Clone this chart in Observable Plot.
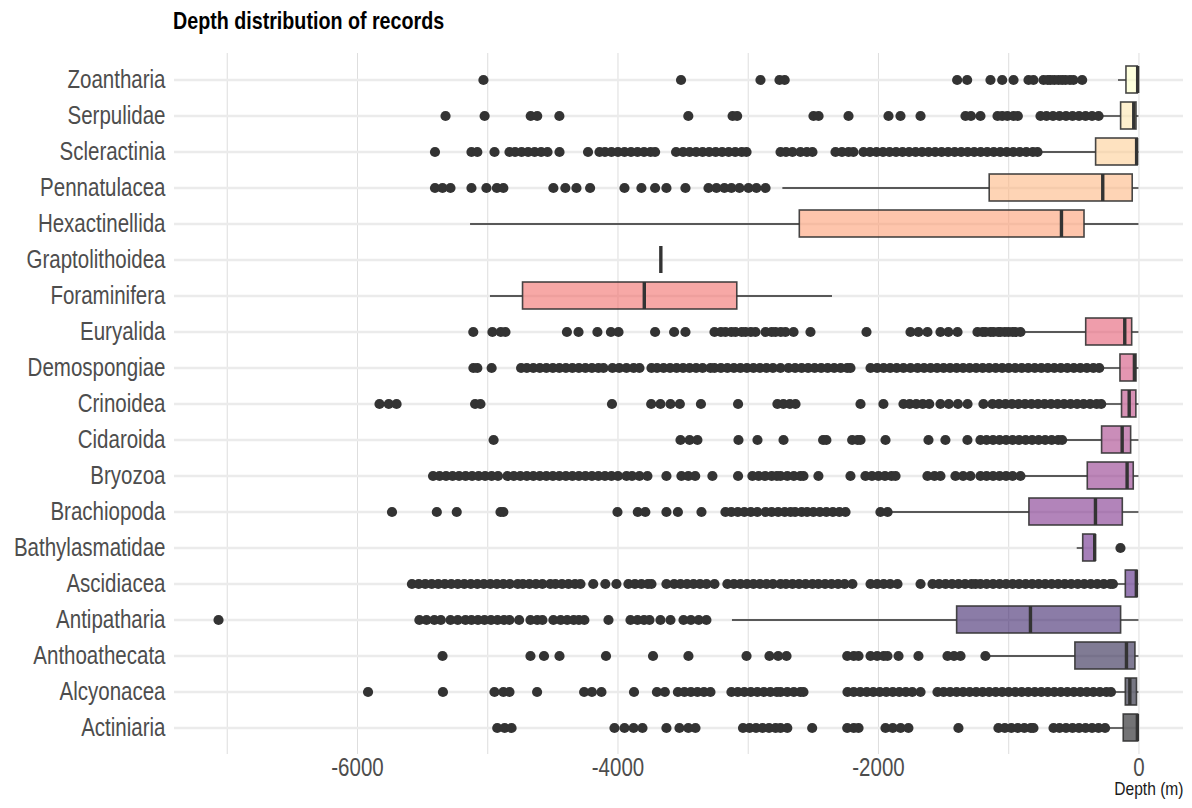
<!DOCTYPE html>
<html>
<head>
<meta charset="utf-8">
<script src="https://cdn.jsdelivr.net/npm/d3@7"></script>
<script src="https://cdn.jsdelivr.net/npm/@observablehq/plot@0.6"></script>
<style>
  html, body { margin: 0; padding: 0; background: #fff; }
  #title { height: 42px; line-height: 42px; padding-left: 173px; font-family: 'Liberation Sans', Arial, sans-serif; font-weight: bold; font-size: 24px; color: #000; white-space: nowrap; }
  #title span { display: inline-block; transform: scaleX(0.82); transform-origin: left center; }
  svg { display: block; }
</style>
</head>
<body>
<div id="title"><span>Depth distribution of records</span></div>
<div id="chart"></div>
<script>
// Categories (alphabetical; drawn Zoantharia at top)
const categories = ["Actiniaria","Alcyonacea","Anthoathecata","Antipatharia","Ascidiacea","Bathylasmatidae","Brachiopoda","Bryozoa","Cidaroida","Crinoidea","Demospongiae","Euryalida","Foraminifera","Graptolithoidea","Hexactinellida","Pennatulacea","Scleractinia","Serpulidae","Zoantharia"];

// Box statistics (depth, m)
const whiskerLow  = [-232, -206, -1178, -3121, -193, -474, -1895, -910, -580, -272, -296, -897, -4979, -3671, -5132, -2734, -771, -283, -157];
const quartile1   = [-117, -101, -488, -1396, -101, -428, -841, -393, -283, -130, -142, -405, -4729, -3671, -2604, -1146, -329, -137, -96];
const medianDepth = [-12, -70, -96, -833, -20, -340, -334, -91, -129, -75, -35, -109, -3798, -3671, -595, -278, -18, -40, -10];
const quartile3   = [-6, -15, -27, -137, -12, -334, -124, -40, -60, -20, -19, -52, -3084, -3671, -418, -48, -10, -19, -9];
const whiskerHigh = [0, 0, 0, 0, 0, -334, 0, 0, 0, 0, 0, 0, -2353, -3671, 0, 0, 0, 0, 0];

// Outliers (depth, m)
const outActiniaria = [-4927,-4870,-4817,-4027,-3950,-3880,-3812,-3628,-3528,-3460,-3405,-3040,-2990,-2940,-2890,-2840,-2790,-2752,-2700,-2509,-2240,-2190,-2153,-1946,-1890,-1830,-1770,-1386,-1079,-1030,-980,-930,-880,-830,-810,-656,-610,-560,-510,-460,-410,-360,-310,-260];
const outAlcyonacea = [-5919,-5344,-4948,-4880,-4833,-4621,-4260,-4200,-4127,-3877,-3701,-3640,-3540,-3490,-3440,-3390,-3340,-3290,-3129,-3080,-3030,-2980,-2930,-2880,-2830,-2780,-2752,-2700,-2650,-2600,-2576,-2238,-2190,-2140,-2090,-2040,-1990,-1940,-1890,-1840,-1790,-1740,-1677,-1547,-1500,-1450,-1400,-1350,-1300,-1250,-1200,-1150,-1100,-1050,-1000,-950,-900,-850,-800,-750,-700,-650,-600,-550,-500,-450,-400,-350,-300,-250,-215];
const outAnthoathecata = [-5347,-4672,-4568,-4449,-4092,-3731,-3459,-3013,-2837,-2770,-2706,-2240,-2190,-2153,-2061,-2010,-1960,-1931,-1846,-1693,-1470,-1420,-1370,-1179];
const outAntipatharia = [-7067,-5525,-5470,-5410,-5360,-5286,-5230,-5171,-5125,-5075,-5025,-4975,-4925,-4875,-4833,-4759,-4672,-4620,-4580,-4496,-4440,-4390,-4340,-4300,-4258,-4073,-3904,-3850,-3800,-3758,-3674,-3597,-3497,-3440,-3380,-3321];
const outAscidiacea = [-5582,-5530,-5480,-5430,-5380,-5330,-5280,-5230,-5180,-5130,-5080,-5030,-4980,-4930,-4880,-4830,-4770,-4730,-4680,-4630,-4580,-4520,-4480,-4430,-4380,-4330,-4288,-4190,-4097,-4012,-3920,-3870,-3820,-3770,-3743,-3628,-3569,-3520,-3470,-3420,-3370,-3320,-3259,-3160,-3110,-3060,-3010,-2960,-2910,-2860,-2810,-2752,-2710,-2660,-2610,-2560,-2507,-2461,-2410,-2360,-2310,-2260,-2200,-2061,-2010,-1960,-1910,-1854,-1677,-1585,-1535,-1485,-1435,-1385,-1335,-1285,-1255,-1217,-1170,-1120,-1070,-1020,-970,-920,-870,-820,-770,-720,-670,-620,-570,-520,-470,-420,-370,-320,-270,-220,-200];
const outBathylasmatidae = [-142];
const outBrachiopoda = [-5735,-5391,-5238,-4902,-4880,-4004,-3848,-3790,-3628,-3540,-3359,-3175,-3130,-3080,-3030,-2980,-2930,-2867,-2820,-2770,-2720,-2675,-2640,-2590,-2548,-2500,-2450,-2400,-2350,-2300,-2253,-1985,-1930];
const outBryozoa = [-5420,-5370,-5320,-5270,-5220,-5170,-5120,-5070,-5020,-4970,-4921,-4849,-4800,-4750,-4700,-4650,-4600,-4550,-4500,-4450,-4400,-4350,-4300,-4250,-4200,-4150,-4100,-4050,-4000,-3935,-3892,-3835,-3774,-3628,-3513,-3460,-3407,-3275,-3078,-2968,-2920,-2870,-2820,-2780,-2752,-2700,-2650,-2600,-2576,-2461,-2215,-2100,-2050,-2000,-1950,-1900,-1869,-1624,-1570,-1524,-1409,-1350,-1294,-1217,-1170,-1120,-1070,-1020,-970,-910];
const outCidaroida = [-4955,-3520,-3450,-3390,-3075,-2929,-2729,-2425,-2400,-2202,-2160,-2138,-1946,-1616,-1486,-1317,-1217,-1170,-1120,-1070,-1020,-970,-920,-870,-820,-770,-720,-670,-620,-590];
const outCrinoidea = [-5831,-5760,-5700,-5097,-5056,-4046,-3745,-3674,-3597,-3525,-3363,-3078,-2776,-2730,-2680,-2637,-2138,-1962,-1808,-1760,-1710,-1660,-1610,-1524,-1460,-1390,-1316,-1194,-1125,-1075,-1025,-975,-925,-875,-825,-775,-725,-675,-625,-575,-525,-475,-425,-375,-325,-290];
const outDemospongiae = [-5110,-5080,-4970,-4744,-4700,-4650,-4600,-4550,-4500,-4450,-4400,-4350,-4300,-4250,-4200,-4150,-4111,-4042,-3990,-3935,-3880,-3835,-3743,-3700,-3650,-3600,-3550,-3500,-3450,-3400,-3350,-3290,-3259,-3210,-3160,-3110,-3060,-3010,-2960,-2910,-2860,-2810,-2752,-2691,-2640,-2590,-2540,-2490,-2440,-2390,-2340,-2290,-2240,-2215,-2061,-2010,-1960,-1910,-1860,-1808,-1754,-1700,-1650,-1600,-1550,-1500,-1450,-1400,-1350,-1300,-1250,-1200,-1150,-1100,-1050,-1000,-950,-900,-850,-800,-750,-700,-650,-600,-550,-500,-450,-400,-350,-305];
const outEuryalida = [-5111,-4964,-4900,-4864,-4392,-4303,-4158,-4054,-3996,-3715,-3569,-3482,-3259,-3210,-3175,-3130,-3098,-3050,-3021,-2980,-2944,-2867,-2820,-2791,-2750,-2714,-2652,-2522,-2092,-1754,-1693,-1624,-1524,-1463,-1393,-1240,-1200,-1179,-1140,-1117,-1080,-1063,-1030,-1002,-970,-948,-910];
const outForaminifera = [];
const outGraptolithoidea = [];
const outHexactinellida = [];
const outPennatulacea = [-5405,-5347,-5286,-5125,-5010,-4930,-4880,-4496,-4404,-4319,-4214,-3950,-3820,-3715,-3628,-3482,-3305,-3244,-3183,-3129,-3067,-2998,-2937,-2867];
const outScleractinia = [-5405,-5125,-5080,-4948,-4833,-4790,-4740,-4690,-4640,-4590,-4541,-4449,-4230,-4142,-4100,-4050,-4000,-3950,-3900,-3850,-3800,-3750,-3715,-3554,-3500,-3450,-3400,-3350,-3300,-3250,-3200,-3150,-3100,-3050,-3013,-2752,-2710,-2660,-2599,-2550,-2507,-2330,-2280,-2230,-2192,-2115,-2065,-2015,-1965,-1915,-1865,-1815,-1765,-1715,-1665,-1615,-1565,-1515,-1465,-1415,-1365,-1315,-1265,-1215,-1165,-1115,-1065,-1015,-965,-915,-865,-815,-779];
const outSerpulidae = [-5324,-5024,-4670,-4620,-4450,-3460,-3120,-3085,-2499,-2460,-2230,-1923,-1831,-1677,-1332,-1290,-1217,-1086,-1050,-1010,-963,-930,-756,-710,-660,-610,-560,-510,-460,-410,-360,-310];
const outZoantharia = [-5033,-3516,-2906,-2760,-2720,-1396,-1319,-1140,-1050,-963,-848,-810,-733,-700,-679,-650,-618,-590,-564,-530,-503,-436];

const outlierLists = [outActiniaria,outAlcyonacea,outAnthoathecata,outAntipatharia,outAscidiacea,outBathylasmatidae,outBrachiopoda,outBryozoa,outCidaroida,outCrinoidea,outDemospongiae,outEuryalida,outForaminifera,outGraptolithoidea,outHexactinellida,outPennatulacea,outScleractinia,outSerpulidae,outZoantharia];

const xTicks = [-6000, -4000, -2000, 0];
const xGrid = [-7000, -6000, -5000, -4000, -3000, -2000, -1000, 0];
const xLabel = "Depth (m)";

const boxes = categories.map((c, i) => ({cat: c, lo: whiskerLow[i], q1: quartile1[i], med: medianDepth[i], q3: quartile3[i], hi: whiskerHigh[i]}));
const outliers = categories.flatMap((c, i) => outlierLists[i].map(v => ({cat: c, v})));

const font = "'Liberation Sans', Arial, sans-serif";

const chart = Plot.plot({
  width: 1192,
  height: 766,
  marginTop: 11,
  marginBottom: 54,
  marginLeft: 174,
  marginRight: 9,
  style: {fontFamily: font, background: "#fff"},
  x: {domain: [-7405, 342]},
  y: {type: "band", domain: categories.slice().reverse(), paddingInner: 0.25, paddingOuter: 0.2},
  color: {type: "ordinal", domain: categories, range: d3.quantize(d3.interpolateMagma, categories.length)},
  marks: [
    Plot.gridX({ticks: xGrid, stroke: "#dedede", strokeOpacity: 1, strokeWidth: 1}),
    Plot.gridY({stroke: "#ebebeb", strokeOpacity: 1, strokeWidth: 2.5}),
    Plot.axisY({tickSize: 0, tickPadding: 9, fontSize: 25, fill: "#4d4d4d", label: null}),
    Plot.axisX({ticks: xTicks, tickSize: 0, tickPadding: 4, fontSize: 25, fill: "#4d4d4d", label: null, tickFormat: d => String(d)}),
    Plot.ruleY(boxes, {y: "cat", x1: "lo", x2: "q1", stroke: "#333", strokeWidth: 1.8, strokeOpacity: 0.8}),
    Plot.ruleY(boxes, {y: "cat", x1: "q3", x2: "hi", stroke: "#333", strokeWidth: 1.8, strokeOpacity: 0.8}),
    Plot.barX(boxes, {y: "cat", x1: "q1", x2: "q3", fill: "cat", fillOpacity: 0.55, stroke: "#333", strokeWidth: 1.6, strokeOpacity: 0.9}),
    Plot.tickX(boxes, {y: "cat", x: "med", stroke: "#333", strokeWidth: 3.4}),
    Plot.dot(outliers, {x: "v", y: "cat", r: 5.1, fill: "#333", stroke: "none"}),
    Plot.text([xLabel], {text: d => d, frameAnchor: "bottom-right", dy: 40, fontSize: 19, textAnchor: "end", fill: "#1a1a1a"})
  ]
});
document.getElementById("chart").appendChild(chart);
// narrow the glyphs of every text (condensed look of the original)
chart.querySelectorAll("text").forEach(t => {
  const w = t.getComputedTextLength();
  if (w > 0) {
    t.setAttribute("textLength", (w * 0.82).toFixed(1));
    t.setAttribute("lengthAdjust", "spacingAndGlyphs");
  }
});
</script>
</body>
</html>
